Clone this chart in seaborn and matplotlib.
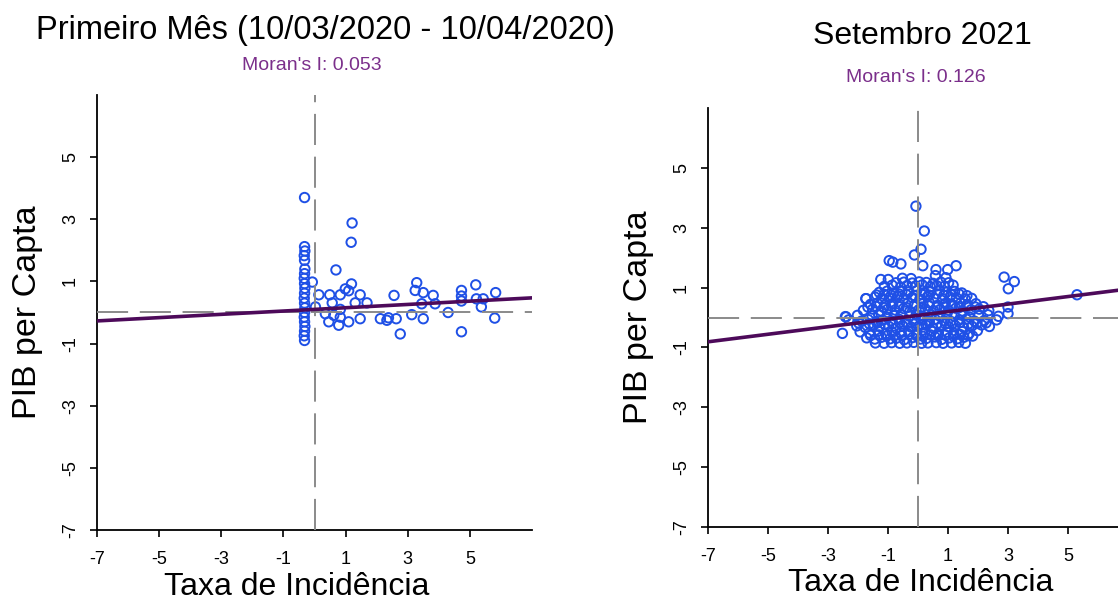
import numpy as np
import pandas as pd
import matplotlib
matplotlib.use("Agg")
import matplotlib.pyplot as plt
import seaborn as sns

# ---------------- data ----------------
titles = ["Primeiro Mês (10/03/2020 - 10/04/2020)", "Setembro 2021"]
moran_labels = ["Moran's I: 0.053", "Moran's I: 0.126"]
moran_slopes = [0.053, 0.126]
line_intercepts = [0.10, 0.07]
x_label = "Taxa de Incidência"
y_label = "PIB per Capta"
tick_values = [-7, -5, -3, -1, 1, 3, 5]

left_x = [-0.32, -0.31, -0.33, -0.32, -0.31, -0.32, -0.33, -0.32, -0.31, -0.32,
          -0.33, -0.32, -0.31, -0.32, -0.33, -0.32, -0.31, -0.32, -0.33, -0.32, -0.32,
          -0.07, 1.21, 1.18, 0.69, 0.14, 0.49, 0.83, 0.99, 1.19, 1.10, 1.47, 1.69,
          1.31, 0.57, 0.03, 0.35, 0.62, 0.83, 0.46, 0.78, 1.10, 1.47, 0.83, 2.12,
          2.33, 2.63, 2.56, 2.76, 3.13, 3.29, 3.24, 3.50, 3.45, 3.82, 3.88, 3.50,
          4.30, 4.73, 4.73, 4.73, 4.73, 5.19, 5.21, 5.43, 5.37, 5.83, 5.80, 2.38]
left_y = [2.12, 1.98, 1.83, 1.68, 1.40, 1.25, 1.10, 0.93, 0.78, 0.62,
          0.46, 0.30, 0.15, 0.00, -0.15, -0.30, -0.45, -0.60, -0.75, -0.90, 3.70,
          0.98, 2.88, 2.26, 1.37, 0.57, 0.57, 0.57, 0.76, 0.92, 0.70, 0.57, 0.31,
          0.31, 0.31, 0.18, -0.04, -0.09, -0.15, -0.30, -0.41, -0.30, -0.20, 0.10, -0.20,
          -0.25, -0.20, 0.55, -0.69, -0.07, 0.96, 0.71, 0.64, 0.28, 0.55, 0.28, -0.20,
          0.00, 0.71, 0.53, 0.37, -0.62, 0.89, 0.44, 0.44, 0.18, 0.64, -0.18, -0.17]

right_x = [-1.42, -1.13, -0.88, -0.61, -0.37, -0.14, 0.12, 0.33, 0.61, 0.84, 1.12, 1.36, 1.58,
           -1.71, -1.44, -1.22, -0.93, -0.72, -0.46, -0.18, 0.07, 0.28, 0.57, 0.79, 1.04, 1.31, 1.53, 1.82,
           -2.52, -1.93, -1.62, -1.33, -1.08, -0.86, -0.58, -0.31, -0.04, 0.22, 0.46, 0.68, 0.97, 1.19, 1.47, 1.71, 1.98,
           -2.04, -1.76, -1.49, -1.27, -0.98, -0.74, -0.52, -0.23, 0.02, 0.27, 0.49, 0.77, 1.02, 1.24, 1.52, 1.79, 2.12, 2.38,
           -2.31, -1.88, -1.66, -1.38, -1.17, -0.91, -0.63, -0.41, -0.13, 0.11, 0.36, 0.58, 0.87, 1.09, 1.37, 1.62, 1.88, 2.21, 2.62,
           -2.42, -2.02, -1.53, -1.31, -1.04, -0.79, -0.56, -0.28, -0.06, 0.19, 0.44, 0.72, 0.96, 1.21, 1.44, 1.71, 2.03, 2.33, 2.68,
           -1.82, -1.51, -1.23, -1.02, -0.76, -0.48, -0.27, 0.03, 0.24, 0.52, 0.74, 1.01, 1.26, 1.48, 1.77, 2.04, 2.36,
           -1.58, -1.36, -1.09, -0.84, -0.62, -0.33, -0.11, 0.16, 0.38, 0.66, 0.91, 1.13, 1.42, 1.64, 1.93,
           -1.74, -1.43, -1.21, -0.96, -0.69, -0.47, -0.19, 0.06, 0.31, 0.53, 0.82, 1.06, 1.28, 1.57, 1.79,
           -1.29, -1.03, -0.81, -0.54, -0.31, -0.04, 0.21, 0.43, 0.72, 0.94, 1.22, 1.46,
           -1.12, -0.86, -0.58, -0.36, -0.09, 0.14, 0.41, 0.63, 0.88, 1.17,
           -1.24, -0.99, -0.52, -0.23, 0.58, 0.93,
           -0.96, -0.84, -0.57, 0.16, 0.60, 0.99, 1.27, -0.12, 0.10, 0.21, -0.07,
           2.87, 3.21, 3.01, 3.00, 3.00, 5.30, -2.40, -1.73,
           -1.58, -1.31, -1.04, -0.77, -0.53, -0.29, -0.06, 0.17, 0.41, 0.66, 0.91, 1.18, 1.41, 1.66,
           -1.97, -1.62, -1.36, -1.11, -0.84, -0.61, -0.36, -0.09, 0.14, 0.38, 0.64, 0.92, 1.16, 1.39, 1.68, 1.96, 2.27,
           -1.67, -1.39, -1.14, -0.88, -0.63, -0.38, -0.14, 0.12, 0.36, 0.62, 0.87, 1.14, 1.37, 1.62, 1.91, 2.18,
           -1.38, -1.12, -0.89, -0.62, -0.38, -0.12, 0.13, 0.37, 0.63, 0.86, 1.11, 1.37, 1.63,
           -0.73, -0.47, -0.19, 0.04, 0.28, 0.51, 0.76, 1.02]
right_y = [-0.85, -0.86, -0.84, -0.86, -0.85, -0.83, -0.86, -0.85, -0.84, -0.86, -0.85, -0.83, -0.86,
           -0.68, -0.72, -0.66, -0.71, -0.69, -0.74, -0.67, -0.72, -0.70, -0.65, -0.73, -0.68, -0.71, -0.66, -0.62,
           -0.53, -0.48, -0.52, -0.45, -0.54, -0.49, -0.51, -0.47, -0.55, -0.50, -0.46, -0.53, -0.49, -0.52, -0.47, -0.53, -0.44,
           -0.28, -0.33, -0.26, -0.31, -0.29, -0.35, -0.27, -0.32, -0.30, -0.26, -0.34, -0.28, -0.31, -0.27, -0.33, -0.29, -0.25, -0.30,
           -0.08, -0.12, -0.07, -0.13, -0.09, -0.11, -0.06, -0.14, -0.10, -0.08, -0.12, -0.07, -0.11, -0.13, -0.09, -0.06, -0.12, -0.10, -0.08,
           0.03, 0.07, 0.05, 0.09, 0.02, 0.06, 0.10, 0.04, 0.08, 0.03, 0.07, 0.05, 0.11, 0.04, 0.08, 0.02, 0.06, 0.09, 0.04,
           0.24, 0.28, 0.22, 0.27, 0.25, 0.30, 0.21, 0.26, 0.29, 0.23, 0.27, 0.24, 0.31, 0.22, 0.26, 0.28, 0.23,
           0.44, 0.48, 0.42, 0.47, 0.45, 0.50, 0.43, 0.46, 0.49, 0.41, 0.47, 0.44, 0.48, 0.43, 0.46,
           0.63, 0.68, 0.62, 0.66, 0.70, 0.64, 0.67, 0.61, 0.69, 0.65, 0.63, 0.68, 0.66, 0.62, 0.64,
           0.84, 0.88, 0.82, 0.87, 0.85, 0.90, 0.83, 0.86, 0.89, 0.84, 0.87, 0.82,
           1.04, 1.08, 1.02, 1.07, 1.05, 1.09, 1.03, 1.06, 1.04, 1.08,
           1.27, 1.27, 1.31, 1.30, 1.40, 1.33,
           1.90, 1.85, 1.79, 1.73, 1.60, 1.60, 1.73, 2.09, 2.28, 2.89, 3.72,
           1.35, 1.20, 0.96, 0.35, 0.13, 0.76, 0.02, 0.63,
           -0.60, -0.58, -0.62, -0.59, -0.61, -0.57, -0.60, -0.63, -0.58, -0.61, -0.59, -0.62, -0.57, -0.60,
           -0.19, -0.21, -0.18, -0.22, -0.20, -0.17, -0.21, -0.19, -0.23, -0.18, -0.20, -0.22, -0.19, -0.17, -0.21, -0.20, -0.18,
           0.35, 0.37, 0.34, 0.38, 0.36, 0.33, 0.37, 0.35, 0.39, 0.34, 0.36, 0.38, 0.33, 0.37, 0.35, 0.36,
           0.75, 0.77, 0.74, 0.78, 0.76, 0.73, 0.77, 0.75, 0.79, 0.74, 0.76, 0.78, 0.73,
           1.16, 1.18, 1.15, 1.19, 1.17, 1.14, 1.18, 1.16]

# ---------------- style ----------------
sns.set_theme(style="white")
plt.rcParams["font.family"] = ["Liberation Sans", "DejaVu Sans"]
plt.rcParams["text.color"] = "black"

POINT_COLOR = "#1f50e6"
LINE_COLOR = "#4d0a5a"
MORAN_COLOR = "#7b2f8b"
REF_COLOR = "#8a8a8a"

fig = plt.figure(figsize=(11.18, 6.05), dpi=100)
W, H = 1118, 605

def px_axes(l, t, r, b):
    return fig.add_axes([l / W, 1 - b / H, (r - l) / W, (b - t) / H])

axes = [px_axes(97, 95, 532, 530), px_axes(708, 108, 1128, 527)]
datasets = [(left_x, left_y), (right_x, right_y)]
xlabel_x = [0.46, 0.507]
ylabel_x = [-0.125, -0.128]

for i, ax in enumerate(axes):
    xs, ys = datasets[i]
    df = pd.DataFrame({"x": xs, "y": ys})
    sns.scatterplot(data=df, x="x", y="y", ax=ax, marker="o", s=46,
                    facecolor="none", edgecolor=POINT_COLOR, linewidth=1.4,
                    zorder=2, legend=False)
    ax.axvline(0, color=REF_COLOR, lw=1.4, dashes=(16, 6), zorder=3)
    ax.axhline(0, color=REF_COLOR, lw=1.4, dashes=(16, 6), zorder=3)
    ax.axline((0, line_intercepts[i]), slope=moran_slopes[i],
              color=LINE_COLOR, lw=2.6, zorder=4)
    ax.set_xlim(-7, 7)
    ax.set_ylim(-7, 7)
    ax.set_xticks(tick_values)
    ax.set_yticks(tick_values)
    ax.set_xticklabels([str(v) for v in tick_values])
    ax.set_yticklabels([str(v) for v in tick_values], rotation=90, va="center")
    for s in ["top", "right"]:
        ax.spines[s].set_visible(False)
    for s in ["left", "bottom"]:
        ax.spines[s].set_color("black")
        ax.spines[s].set_linewidth(1.3)
    ax.tick_params(axis="both", direction="out", length=5, width=1.2,
                   color="black", labelsize=13, labelcolor="black",
                   left=True, bottom=True)
    ax.tick_params(axis="x", pad=10)
    ax.tick_params(axis="y", pad=8)
    ax.set_xlabel(x_label, fontsize=23, color="black")
    ax.set_ylabel(y_label, fontsize=24.5, color="black")
    ax.xaxis.set_label_coords(xlabel_x[i], -0.097)
    ax.yaxis.set_label_coords(ylabel_x[i], 0.5)

fig.text(325 / W, 1 - 31 / H, titles[0], ha="center", va="center", fontsize=23.5, color="black")
fig.text(312 / W, 1 - 66 / H, moran_labels[0], ha="center", va="center",
         fontsize=14, color=MORAN_COLOR)
fig.text(922 / W, 1 - 36 / H, titles[1], ha="center", va="center", fontsize=23, color="black")
fig.text(916 / W, 1 - 78 / H, moran_labels[1], ha="center", va="center",
         fontsize=14, color=MORAN_COLOR)

fig.savefig("out.png", dpi=100)
